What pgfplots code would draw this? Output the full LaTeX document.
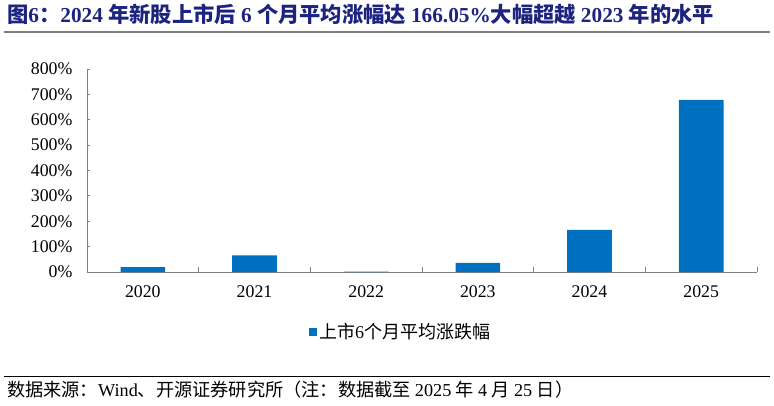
\documentclass[border=0pt]{standalone}
\usepackage{fontspec}
\setmainfont{Liberation Serif}
\newfontfamily\cjk{Noto Sans CJK SC}
\usepackage{pgfplots}
\pgfplotsset{compat=1.18}
\definecolor{barblue}{RGB}{0,112,192}
\definecolor{titleblue}{RGB}{28,36,128}
\definecolor{axgray}{RGB}{128,128,128}
\begin{document}
\begin{tikzpicture}[x=1pt,y=1pt]
\useasboundingbox (0,0) rectangle (774,405);
\node[anchor=base west, inner sep=0, text=titleblue, font=\fontsize{21.3}{21.3}\selectfont\bfseries] at (7,382)
 {\cjk 图\rmfamily 6\cjk ：\rmfamily 2024 \cjk 年新股上市后 \rmfamily 6 \cjk 个月平均涨幅达 \rmfamily 166.05\%\cjk 大幅超越 \rmfamily 2023 \cjk 年的水平};
\draw[axgray, line width=1.5pt] (4,373) -- (770,373);
\draw[black, line width=0.8pt] (4,29) -- (770,29);
\node[anchor=base west, inner sep=0, font=\fontsize{18.2}{18.2}\selectfont] at (7,9)
 {\cjk 数据来源：\rmfamily Wind\cjk 、开源证券研究所（注：数据截至 \rmfamily 2025 \cjk 年 \rmfamily 4 \cjk 月 \rmfamily 25 \cjk 日）};
\begin{axis}[
  at={(87pt,133pt)}, anchor=south west,
  scale only axis, width=670pt, height=203pt,
  xmin=-0.5, xmax=5.5, ymin=0, ymax=800,
  axis x line=bottom, axis y line=left,
  axis line style={-, axgray, line width=0.9pt},
  tick align=inside,
  xtick={0,...,5}, xticklabels={2020,2021,2022,2023,2024,2025},
  major x tick style={draw=none},
  minor xtick={-0.5,0.5,...,5.5},
  minor tick length=5pt,
  minor x tick style={axgray, line width=0.9pt},
  ytick={0,100,...,800},
  yticklabel={\pgfmathprintnumber{\tick}\%},
  major tick length=3pt,
  y tick style={axgray, line width=0.9pt},
  /pgf/number format/assume math mode=true,
  tick label style={font=\fontsize{17.8}{17.8}\selectfont, text=black},
  xticklabel style={yshift=-10pt},
  yticklabel style={xshift=-11pt},
  legend style={at={(0.468,-0.296)}, anchor=center, draw=none, fill=none,
    font=\fontsize{18}{18}\selectfont},
  legend image code/.code={\fill[barblue] (0pt,-4pt) rectangle (8pt,4pt);},
]
\addplot[ybar, fill=barblue, draw=none, bar width=0.4] coordinates {(0,19) (1,66) (2,1.5) (3,36) (4,166.05) (5,678)};
\addlegendentry{\cjk 上市\rmfamily 6\cjk 个月平均涨跌幅}
\end{axis}
\end{tikzpicture}
\end{document}
